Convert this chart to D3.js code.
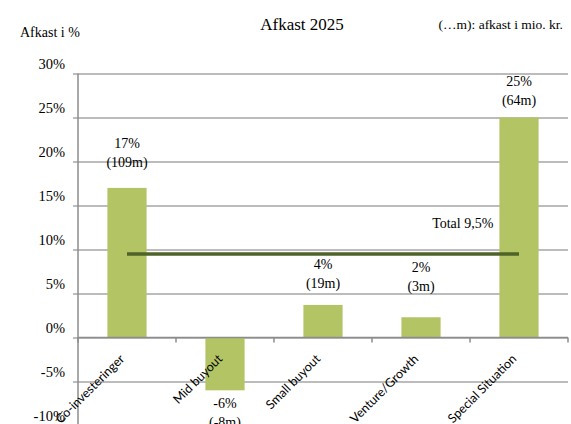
<!DOCTYPE html>
<html>
<head>
<meta charset="utf-8">
<script src="https://cdn.jsdelivr.net/npm/d3@7"></script>
<style>
  html, body { margin: 0; padding: 0; background: #fff; }
  svg { display: block; }
</style>
</head>
<body>
<svg id="chart" width="571" height="424"></svg>
<script>
// Afkast 2025 per strategi
const categories = ["Co-investeringer", "Mid buyout", "Small buyout", "Venture/Growth", "Special Situation"];
const returnsPct = [17, -6, 3.7, 2.3, 25];          // afkast i %
const returnsMio = [109, -8, 19, 3, 64];            // afkast i mio. kr.
const totalPct = 9.5;
const totalLabel = "Total 9,5%";
const yTicks = [-10, -5, 0, 5, 10, 15, 20, 25, 30];

// vertical gap (px) between bar end and its value label
const labelGap = [21, 18, 17, 26, 12.5];

const W = 571, H = 424;
const left = 78, right = 568;

const svg = d3.select("#chart");
const serif = "'Liberation Serif', 'Times New Roman', serif";

const y = d3.scaleLinear().domain([-10, 30]).range([425.5, 73.5]);
const x = d3.scaleBand().domain(categories).range([left, right])
  .paddingInner(0.6).paddingOuter(0.3);
const bw = x.bandwidth();
const cx = c => x(c) + bw / 2;

// y axis with gridlines
const yAxis = svg.append("g")
  .attr("transform", `translate(${left},0)`)
  .call(d3.axisLeft(y).tickValues(yTicks).tickSizeInner(-(right - left)).tickSizeOuter(0)
    .tickPadding(13).tickFormat(d => d + "%"));
yAxis.select(".domain").remove();
yAxis.selectAll(".tick line")
  .attr("x1", -5)
  .attr("stroke", "#a6a6a6")
  .attr("stroke-width", 1.6);
yAxis.selectAll(".tick text")
  .attr("dy", null)
  .attr("y", -5)
  .attr("fill", "#000")
  .style("font-family", serif)
  .style("font-size", "14.5px");

svg.append("line")
  .attr("x1", left).attr("x2", left)
  .attr("y1", y(30)).attr("y2", H)
  .attr("stroke", "#8c8c8c").attr("stroke-width", 1.5);

// bars
svg.append("g").selectAll("rect")
  .data(categories)
  .join("rect")
  .attr("x", d => x(d))
  .attr("width", bw)
  .attr("y", (d, i) => y(Math.max(0, returnsPct[i])))
  .attr("height", (d, i) => Math.abs(y(returnsPct[i]) - y(0)))
  .attr("fill", "#b3c465");

// x axis at 0%
svg.append("line")
  .attr("x1", left).attr("x2", right)
  .attr("y1", y(0)).attr("y2", y(0))
  .attr("stroke", "#8c8c8c").attr("stroke-width", 1.5);
const step = x.step();
const bounds = categories.map(c => x(c) - step * x.paddingInner() / 2).concat([right]);
svg.append("g").selectAll("line")
  .data(bounds)
  .join("line")
  .attr("x1", d => d).attr("x2", d => d)
  .attr("y1", y(0)).attr("y2", y(0) + 5)
  .attr("stroke", "#8c8c8c").attr("stroke-width", 1.5);

// category labels
svg.append("g").selectAll("text")
  .data(categories)
  .join("text")
  .attr("transform", d => `translate(${cx(d) - 8},${y(0) + 16}) rotate(-45)`)
  .attr("text-anchor", "end")
  .attr("dy", "0.7em")
  .style("font-family", "Lato, 'Open Sans', sans-serif")
  .style("font-size", "12.5px")
  .attr("fill", "#000")
  .text(d => d);

// total line
svg.append("line")
  .attr("x1", cx(categories[0]))
  .attr("x2", cx(categories[categories.length - 1]))
  .attr("y1", y(totalPct)).attr("y2", y(totalPct))
  .attr("stroke", "#4f6228").attr("stroke-width", 3.5);

svg.append("text")
  .attr("x", x(categories[4]) - 6)
  .attr("y", y(totalPct) - 26)
  .attr("text-anchor", "end")
  .style("font-family", serif)
  .style("font-size", "14px")
  .text(totalLabel);

// value labels
const lbl = svg.append("g")
  .style("font-family", serif)
  .style("font-size", "14px")
  .attr("text-anchor", "middle");
categories.forEach((c, i) => {
  const v = returnsPct[i];
  const lines = [Math.round(v) + "%", "(" + returnsMio[i] + "m)"];
  const lh = 19;
  let base;
  if (v >= 0) base = y(v) - labelGap[i] - lh;   // first line baseline
  else base = y(v) + labelGap[i];
  lines.forEach((t, k) => {
    lbl.append("text")
      .attr("x", cx(c))
      .attr("y", base + k * lh)
      .text(t);
  });
});

// titles
svg.append("text")
  .attr("x", 302).attr("y", 30)
  .attr("text-anchor", "middle")
  .style("font-family", serif)
  .style("font-size", "17px")
  .text("Afkast 2025");

svg.append("text")
  .attr("x", 563).attr("y", 29)
  .attr("text-anchor", "end")
  .style("font-family", serif)
  .style("font-size", "13.5px")
  .text("(…m): afkast i mio. kr.");

svg.append("text")
  .attr("x", 20).attr("y", 37)
  .style("font-family", serif)
  .style("font-size", "14px")
  .text("Afkast i %");
</script>
</body>
</html>
